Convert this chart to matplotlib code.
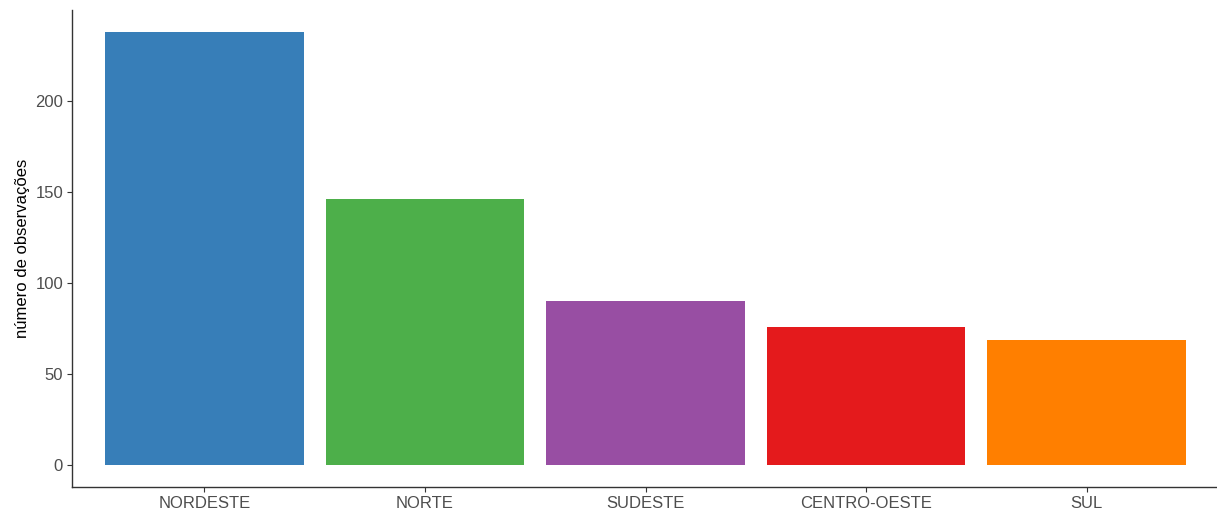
import numpy as np
from matplotlib import pyplot as plt

plt.rcParams.update({
  "font.family": ['Liberation Sans', 'DejaVu Sans'],
})

# dados
regioes = ['NORDESTE', 'NORTE', 'SUDESTE', 'CENTRO-OESTE', 'SUL']
observacoes = [238, 146, 90, 76, 69]
cores = ['#377EB8', '#4DAF4A', '#984EA3', '#E41A1C', '#FF7F00']

fig = plt.figure(figsize=(12.17, 5.11), dpi=100)
ax = fig.add_axes([0.0592, 0.047, 0.9425, 0.933])

x = np.arange(len(regioes))
ax.bar(x, observacoes, width=0.9, color=cores)

ax.set_xlim(-0.6, len(regioes) - 0.4)
ax.set_ylim(-11.9, 249.9)
ax.set_xticks(x)
ax.set_xticklabels(regioes)
ax.set_yticks([0, 50, 100, 150, 200])

for s in ['top', 'right']:
    ax.spines[s].set_visible(False)
for s in ['left', 'bottom']:
    ax.spines[s].set_color('#333333')
    ax.spines[s].set_linewidth(1.0)

ax.tick_params(axis='both', colors='#333333', labelcolor='#4D4D4D',
               labelsize=12, length=3.5, width=0.8, pad=3)
ax.set_ylabel("número de observações", fontsize=12, color='black', labelpad=4)

fig.savefig('out.png', dpi=100)
